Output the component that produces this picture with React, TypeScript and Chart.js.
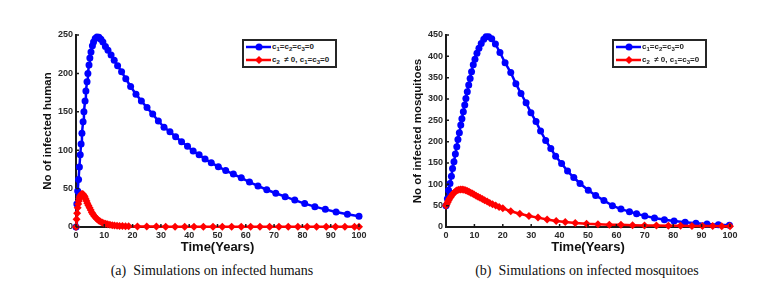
import React, { useEffect, useRef } from "react";
import { Chart, registerables } from "chart.js";
Chart.register(...registerables);

// ---------- Panel (a): infected humans ----------
const humanNoCtrlT = [0, 0.3, 0.6, 0.9, 1.2, 1.5, 1.8, 2.1, 2.5, 2.8, 3.2, 3.5, 3.9, 4.2, 4.6, 4.9, 5.3, 5.8, 6.2, 6.8, 7.4, 8.1, 8.8, 9.5, 10.4, 11.3, 12.4, 13.5, 14.7, 16.1, 17.6, 19.3, 21.2, 23.1, 25.1, 27.1, 29.1, 31.1, 33.2, 35.2, 37.3, 39.4, 41.4, 43.5, 45.6, 47.8, 50.3, 52.9, 55.6, 58.4, 61.3, 64.3, 67.4, 70.6, 73.9, 77.3, 80.8, 84.4, 88.1, 91.9, 95.9, 100];
const humanNoCtrlV = [0, 30, 47, 62, 78, 94, 108, 122, 137, 150, 164, 177, 189, 200, 211, 220, 228, 236, 241, 245.5, 247.5, 247, 244.5, 241, 235, 230, 224, 217, 210, 202, 193, 183, 173, 164, 155.5, 147, 138, 130, 124, 117.5, 111, 105, 99, 94, 88.5, 83.5, 78.5, 73.5, 69, 64, 58.5, 53.5, 48.5, 44, 39.5, 35, 30.5, 26.5, 23, 19.5, 16.5, 14];

const humanCtrlT = [0, 0.2, 0.4, 0.6, 0.8, 1.0, 1.2, 1.4, 1.6, 1.9, 2.2, 2.5, 2.8, 3.1, 3.4, 3.7, 4.0, 4.4, 4.8, 5.2, 5.6, 6.0, 6.5, 7.0, 7.5, 8.0, 8.6, 9.2, 9.8, 10.5, 11.2, 12.0, 12.8, 13.6, 14.5, 15.4, 16.4, 17.5, 18.6, 21.7, 25.0, 28.4, 31.7, 35.0, 38.4, 41.7, 45.0, 48.4, 51.7, 55.0, 58.4, 61.7, 65.0, 68.4, 71.7, 75.0, 78.4, 81.7, 85.0, 88.4, 91.7, 95.0, 98.4, 100];
const humanCtrlV = [0, 10, 18, 25, 30, 34, 37, 39.5, 41, 42.5, 43, 42.5, 41, 39, 36.5, 34, 31, 28, 25, 22, 19, 16.5, 14, 12, 10, 8.5, 7, 6, 5, 4.2, 3.5, 2.9, 2.4, 2, 1.7, 1.4, 1.2, 1, 0.9, 0.7, 0.6, 0.5, 0.4, 0.35, 0.3, 0.25, 0.2, 0.2, 0.2, 0.2, 0.2, 0.2, 0.2, 0.2, 0.2, 0.2, 0.2, 0.2, 0.2, 0.2, 0.2, 0.2, 0.2, 0.2];

// ---------- Panel (b): infected mosquitoes ----------
const mosqNoCtrlT = [0, 0.5, 0.9, 1.4, 1.9, 2.3, 2.8, 3.3, 3.8, 4.2, 4.7, 5.2, 5.6, 6.1, 6.6, 7.0, 7.5, 8.0, 8.5, 9.0, 9.6, 10.2, 10.9, 11.6, 12.4, 13.3, 14.1, 15.0, 16.1, 17.4, 19.0, 20.8, 22.8, 24.6, 26.4, 28.2, 29.9, 31.7, 33.3, 35.1, 36.9, 38.6, 40.7, 42.8, 45.0, 47.2, 50.1, 52.7, 55.6, 58.6, 61.6, 64.6, 67.1, 70.0, 73.4, 76.9, 80.3, 84.2, 88.0, 91.9, 95.9, 99.8];
const mosqNoCtrlV = [50, 66, 86, 102, 119, 137, 153, 171, 188, 205, 221, 239, 254, 270, 286, 301, 317, 333, 348, 364, 380, 393, 407, 419, 430, 440, 446, 446, 441, 429, 409, 385, 362, 336, 313, 291, 268, 247, 225, 203, 184, 166, 149, 131, 116, 102, 86, 74, 62, 50, 42, 36, 31, 26, 21, 17, 14, 11, 9, 7, 5, 4];

const mosqCtrlT = [0, 0.3, 0.6, 0.9, 1.2, 1.6, 2.0, 2.4, 2.9, 3.4, 3.9, 4.5, 5.1, 5.7, 6.3, 6.9, 7.5, 8.1, 8.7, 9.3, 9.9, 10.6, 11.3, 12.0, 12.8, 13.6, 14.5, 15.4, 16.4, 17.5, 18.7, 20.0, 22.8, 26.0, 29.2, 32.4, 35.6, 38.8, 42.0, 45.5, 49.5, 53.5, 57.5, 61.6, 65.7, 69.9, 74.1, 78.3, 82.6, 86.6, 90.3, 93.9, 97.1, 100];
const mosqCtrlV = [50, 54, 58, 62, 66, 70, 74, 77.5, 81, 84, 86, 87.5, 88, 88, 87.5, 86, 84.5, 82.5, 80.5, 78.5, 76, 73.5, 71, 68.5, 65.5, 62.5, 59.5, 56.5, 53.5, 50.5, 47, 44, 37, 31, 26, 22, 17.5, 14, 11.5, 9.5, 7.5, 6.5, 5.5, 5, 4.3, 3.8, 3.3, 3, 2.7, 2.5, 2.3, 2.2, 2, 2];

const xTicksStep = 10;
const yTicksStep = 50;
const SANS = "'Liberation Sans', Arial, sans-serif";
const BLUE = "#0000ff";
const RED = "#ff0000";
const AXIS = "#1a1a1a";

const pts = (t: number[], v: number[]) => t.map((x, i) => ({ x, y: v[i] }));

// MATLAB-style inward tick marks, computed from the scales
const innerTicks = {
  id: "innerTicks",
  afterDraw(chart: any) {
    const { ctx, chartArea, scales } = chart;
    ctx.save();
    ctx.strokeStyle = AXIS;
    ctx.lineWidth = 1.5;
    ctx.beginPath();
    scales.x.ticks.forEach((t: any) => {
      const px = scales.x.getPixelForValue(t.value);
      ctx.moveTo(px, chartArea.bottom);
      ctx.lineTo(px, chartArea.bottom - 3);
    });
    scales.y.ticks.forEach((t: any) => {
      const py = scales.y.getPixelForValue(t.value);
      ctx.moveTo(chartArea.left, py);
      ctx.lineTo(chartArea.left + 3, py);
    });
    ctx.stroke();
    ctx.restore();
  },
};

type PanelProps = {
  left: number;
  yMax: number;
  yTitle: string;
  yTitlePad: number;
  yAxisWidth: number;
  padRight: number;
  blue: { x: number; y: number }[];
  red: { x: number; y: number }[];
};

function Panel(p: PanelProps) {
  const ref = useRef<HTMLCanvasElement>(null);
  useEffect(() => {
    if (!ref.current) return;
    const tickFont = { family: SANS, size: 9, weight: "bold" as const };
    const chart = new Chart(ref.current, {
      type: "line",
      data: {
        datasets: [
          {
            data: p.red,
            borderColor: RED,
            backgroundColor: RED,
            borderWidth: 2.5,
            pointStyle: "rectRot",
            pointRadius: 4,
            pointBorderWidth: 0,
            clip: false as any,
          },
          {
            data: p.blue,
            borderColor: BLUE,
            backgroundColor: BLUE,
            borderWidth: 2.5,
            pointStyle: "circle",
            pointRadius: 3.5,
            pointBorderWidth: 0,
            clip: false as any,
          },
        ],
      },
      plugins: [innerTicks],
      options: {
        responsive: false,
        animation: false,
        devicePixelRatio: 1,
        layout: { padding: { left: 0, right: p.padRight, top: 35, bottom: 0 } },
        plugins: { legend: { display: false }, tooltip: { enabled: false } },
        scales: {
          x: {
            type: "linear",
            min: 0,
            max: 100,
            ticks: { stepSize: xTicksStep, font: tickFont, color: "#2a2a2a", padding: 3, maxRotation: 0, autoSkip: false },
            grid: { display: false, drawTicks: false },
            border: { display: true, color: AXIS, width: 2 },
            title: {
              display: true,
              text: "Time(Years)",
              font: { family: SANS, size: 13, weight: "bold" },
              color: "#111",
              padding: { top: 0, bottom: 5 },
            },
            afterFit: (s: any) => {
              s.height = 33;
            },
          },
          y: {
            type: "linear",
            min: 0,
            max: p.yMax,
            ticks: { stepSize: yTicksStep, font: tickFont, color: "#2a2a2a", padding: 3 },
            grid: { display: false, drawTicks: false },
            border: { display: true, color: AXIS, width: 2 },
            title: {
              display: true,
              text: p.yTitle,
              font: { family: SANS, size: 11.5, weight: "bold" },
              color: "#111",
              padding: { top: p.yTitlePad, bottom: 0 },
            },
            afterFit: (s: any) => {
              s.width = p.yAxisWidth;
            },
          },
        },
      },
    });
    return () => chart.destroy();
  }, []);
  return (
    <canvas
      ref={ref}
      width={388}
      height={260}
      style={{ position: "absolute", left: p.left, top: 0, width: 388, height: 260 }}
    />
  );
}

const subStyle: React.CSSProperties = { fontSize: 6, verticalAlign: -2, lineHeight: 0 };

function Legend({ left }: { left: number }) {
  return (
    <div
      style={{
        position: "absolute",
        left,
        top: 39,
        width: 91,
        height: 25,
        border: "2px solid #262626",
        background: "#fff",
        fontFamily: SANS,
        fontWeight: "bold",
        fontSize: 8,
        color: "#222",
      }}
    >
      <svg width={30} height={25} style={{ position: "absolute", left: 1, top: 0 }}>
        <line x1={1} y1={6} x2={26} y2={6} stroke={BLUE} strokeWidth={2.5} />
        <circle cx={14} cy={6} r={3.5} fill={BLUE} />
        <line x1={1} y1={19} x2={26} y2={19} stroke={RED} strokeWidth={2.5} />
        <polygon points="14,15 18,19 14,23 10,19" fill={RED} />
      </svg>
      <div style={{ position: "absolute", left: 28, top: 1, whiteSpace: "nowrap", lineHeight: "10px" }}>
        c<sub style={subStyle}>1</sub>=c<sub style={subStyle}>2</sub>=c<sub style={subStyle}>3</sub>=0
      </div>
      <div style={{ position: "absolute", left: 28, top: 14, whiteSpace: "nowrap", lineHeight: "10px" }}>
        c<sub style={subStyle}>2</sub>&nbsp; ≠ 0, c<sub style={subStyle}>1</sub>=c<sub style={subStyle}>3</sub>=0
      </div>
    </div>
  );
}

const captionStyle: React.CSSProperties = {
  position: "absolute",
  top: 263,
  fontFamily: "'Liberation Serif', 'Times New Roman', serif",
  fontSize: 14,
  color: "#111",
  whiteSpace: "nowrap",
  transform: "translateX(-50%)",
};

export default function App() {
  return (
    <div style={{ position: "absolute", left: 0, top: 0, width: 776, height: 290, background: "#fff", overflow: "hidden" }}>
      <Panel
        left={0}
        yMax={250}
        yTitle="No of infected human"
        yTitlePad={41}
        yAxisWidth={76}
        padRight={29}
        blue={pts(humanNoCtrlT, humanNoCtrlV)}
        red={pts(humanCtrlT, humanCtrlV)}
      />
      <Panel
        left={388}
        yMax={450}
        yTitle="No of infected mosquitoes"
        yTitlePad={23}
        yAxisWidth={58}
        padRight={46}
        blue={pts(mosqNoCtrlT, mosqNoCtrlV)}
        red={pts(mosqCtrlT, mosqCtrlV)}
      />
      <Legend left={242} />
      <Legend left={612} />
      <div style={{ ...captionStyle, left: 212 }}>(a)&nbsp; Simulations on infected humans</div>
      <div style={{ ...captionStyle, left: 587 }}>(b)&nbsp; Simulations on infected mosquitoes</div>
    </div>
  );
}
